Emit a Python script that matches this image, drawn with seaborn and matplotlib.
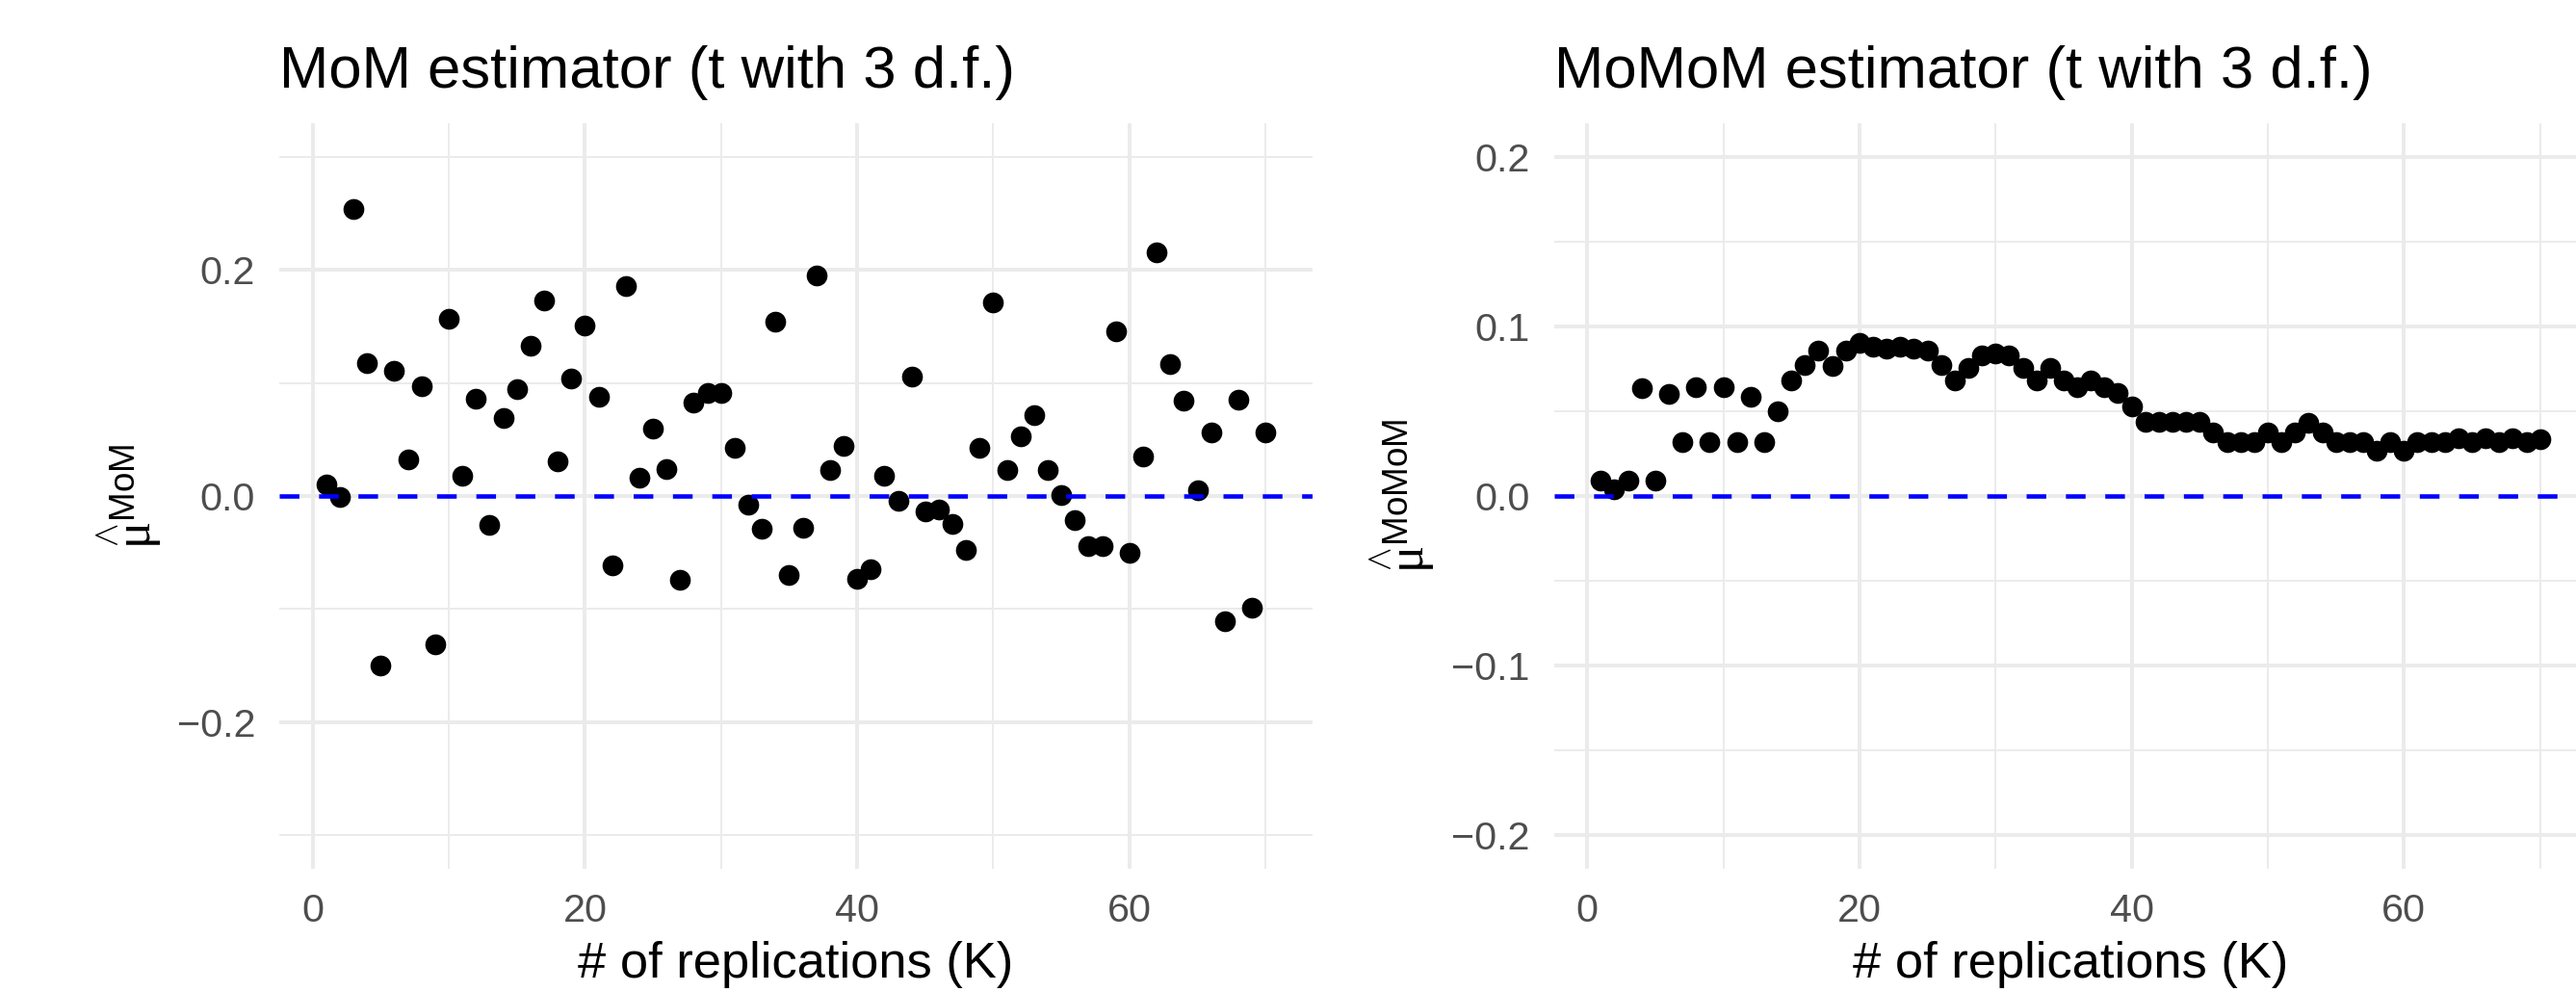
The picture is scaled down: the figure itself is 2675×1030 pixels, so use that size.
import numpy as np
import pandas as pd
import matplotlib
matplotlib.use("Agg")
import matplotlib.pyplot as plt
from matplotlib.ticker import FixedLocator
import seaborn as sns

# ---------------- data ----------------
K = list(range(1, 71))

mom = [0.010, -0.001, 0.254, 0.118, -0.150, 0.111, 0.032, 0.097, -0.131, 0.157,
       0.018, 0.086, -0.026, 0.069, 0.095, 0.133, 0.173, 0.031, 0.104, 0.151,
       0.088, -0.061, 0.186, 0.016, 0.060, 0.024, -0.074, 0.083, 0.091, 0.091,
       0.043, -0.008, -0.029, 0.154, -0.070, -0.028, 0.195, 0.023, 0.044, -0.073,
       -0.065, 0.018, -0.004, 0.106, -0.014, -0.012, -0.025, -0.048, 0.043, 0.171,
       0.023, 0.053, 0.072, 0.023, 0.001, -0.021, -0.044, -0.044, 0.146, -0.050,
       0.035, 0.216, 0.117, 0.084, 0.005, 0.056, -0.111, 0.085, -0.099, 0.056]

momom = [0.0093, 0.0042, 0.0093, 0.0636, 0.0093, 0.0600, 0.0317, 0.0643, 0.0317, 0.0643,
         0.0317, 0.0586, 0.0317, 0.0500, 0.0683, 0.0772, 0.0858, 0.0769, 0.0858, 0.0905,
         0.0880, 0.0871, 0.0880, 0.0871, 0.0860, 0.0772, 0.0683, 0.0757, 0.0830, 0.0840,
         0.0830, 0.0757, 0.0683, 0.0757, 0.0683, 0.0643, 0.0683, 0.0643, 0.0607, 0.0526,
         0.0440, 0.0440, 0.0440, 0.0440, 0.0440, 0.0378, 0.0317, 0.0317, 0.0317, 0.0378,
         0.0317, 0.0374, 0.0430, 0.0374, 0.0317, 0.0317, 0.0317, 0.0270, 0.0317, 0.0270,
         0.0317, 0.0317, 0.0317, 0.0340, 0.0317, 0.0340, 0.0317, 0.0340, 0.0317, 0.0336]

titles = ["MoM estimator (t with 3 d.f.)", "MoMoM estimator (t with 3 d.f.)"]
ylabels = [r"$\overset{\wedge}{\mathrm{\mu}}^{\mathsf{MoM}}$",
           r"$\overset{\wedge}{\mathrm{\mu}}^{\mathsf{MoMoM}}$"]
xlabel = "# of replications (K)"

df = pd.DataFrame({"K": K, "mom": mom, "momom": momom})

# ---------------- style ----------------
sns.set_theme(style="white")
plt.rcParams["font.family"] = ["Liberation Sans", "DejaVu Sans"]
plt.rcParams["mathtext.fontset"] = "custom"
plt.rcParams["mathtext.rm"] = "Liberation Serif"
plt.rcParams["mathtext.sf"] = "Liberation Sans"
plt.rcParams["mathtext.it"] = "Liberation Serif:italic"
plt.rcParams["axes.unicode_minus"] = True

W, H, DPI = 2675, 1030, 300
fig = plt.figure(figsize=(W / DPI, H / DPI), dpi=DPI)
fig.patch.set_facecolor("white")

pw = (1363 - 290) / W
ph = (902 - 128) / H
bottom = 1 - 902 / H
lefts = [290, 1613.5]
ax1 = fig.add_axes([lefts[0] / W, bottom, pw, ph])
ax2 = fig.add_axes([lefts[1] / W, bottom, pw, ph])

grid_c = "#EBEBEB"
specs = [
    (ax1, "mom", (-0.33, 0.33), [-0.2, 0.0, 0.2], [-0.3, -0.1, 0.1, 0.3]),
    (ax2, "momom", (-0.22, 0.22), [-0.2, -0.1, 0.0, 0.1, 0.2], [-0.15, -0.05, 0.05, 0.15]),
]

for i, (ax, col, ylim, ymaj, ymin) in enumerate(specs):
    ax.set_facecolor("white")
    for s in ax.spines.values():
        s.set_visible(False)
    ax.set_xlim(-2.45, 73.45)
    ax.set_ylim(*ylim)
    ax.xaxis.set_major_locator(FixedLocator([0, 20, 40, 60]))
    ax.xaxis.set_minor_locator(FixedLocator([10, 30, 50, 70]))
    ax.yaxis.set_major_locator(FixedLocator(ymaj))
    ax.yaxis.set_minor_locator(FixedLocator(ymin))
    ax.set_yticklabels([f"{v:.1f}".replace("-", "\u2212") for v in ymaj])
    ax.grid(which="major", color=grid_c, linewidth=0.96)
    ax.grid(which="minor", color=grid_c, linewidth=0.48)
    ax.set_axisbelow(True)
    ax.tick_params(which="both", length=0)
    ax.tick_params(axis="y", pad=6, labelsize=9.9, labelcolor="#4D4D4D")
    ax.tick_params(axis="x", pad=6, labelsize=9.9, labelcolor="#4D4D4D")

    sns.scatterplot(data=df, x="K", y=col, ax=ax, color="black", s=27,
                    linewidth=0, zorder=3, legend=False)
    ax.axhline(0, color="#0000FF", linewidth=1.1,
               linestyle=(0, (4.9 / 1.1, 4.9 / 1.1)), zorder=4)

    ax.set_title(titles[i], loc="left", fontsize=14.8, color="black", pad=9)
    ax.set_xlabel(xlabel, fontsize=12.6, color="black", labelpad=3)
    ax.set_ylabel(ylabels[i], fontsize=12.6, color="black")
    ax.yaxis.set_label_coords((170 - 290) / 1073 if i == 0 else (1492 - 1613.5) / 1073, 0.5)

fig.savefig("out.png", dpi=DPI, facecolor="white")
